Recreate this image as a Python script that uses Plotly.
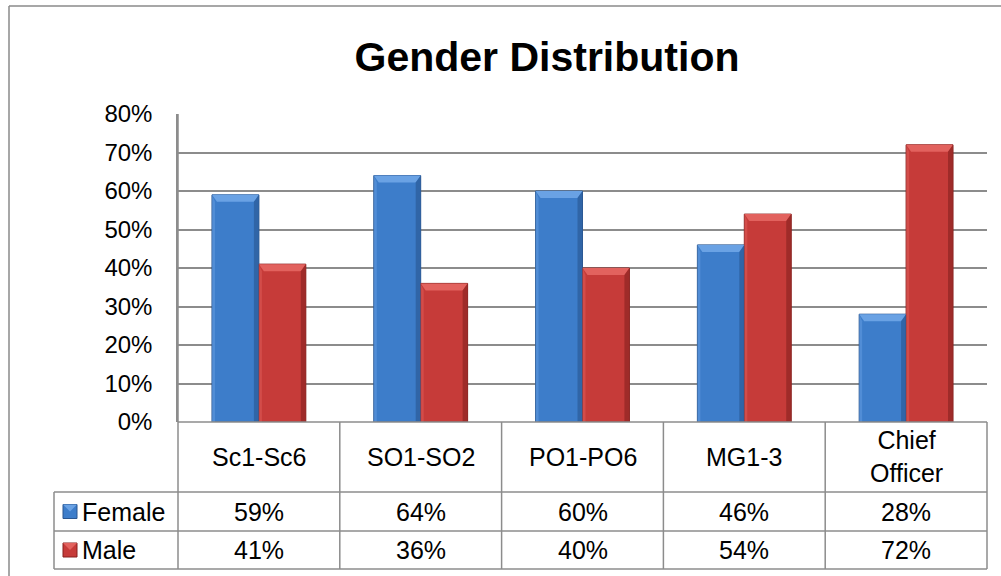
import plotly.graph_objects as go

# --- data ---------------------------------------------------------------
categories = ["Sc1-Sc6", "SO1-SO2", "PO1-PO6", "MG1-3", "Chief Officer"]
category_labels = ["Sc1-Sc6", "SO1-SO2", "PO1-PO6", "MG1-3", "Chief<br>Officer"]
series_names = ["Female", "Male"]
female = [59, 64, 60, 46, 28]
male = [41, 36, 40, 54, 72]
y_ticks = [0, 10, 20, 30, 40, 50, 60, 70, 80]
y_tick_labels = ["0%", "10%", "20%", "30%", "40%", "50%", "60%", "70%", "80%"]

# --- styling ------------------------------------------------------------
W, H = 1001, 576
PL, PR, PT, PB = 178, 987, 114, 422          # plot area in pixels
FONT = "Liberation Sans, Arial, sans-serif"
GRID = "#8c8c8c"
BARGAP = 0.42
styles = {
    "Female": dict(body="#3d7dca", light="#6aa2e4", dark="#2d5f9e", edge="#2a5690"),
    "Male": dict(body="#c63b39", light="#e2625e", dark="#952826", edge="#86211f"),
}
series = {"Female": female, "Male": male}


def px_x(px):
    return (px - PL) / (PR - PL)


def px_y(py):
    return (PB - py) / (PB - PT)


fig = go.Figure()
for name in series_names:
    st = styles[name]
    fig.add_trace(go.Bar(
        name=name, x=categories, y=series[name],
        marker=dict(color=st["body"], line=dict(color=st["edge"], width=1)),
        showlegend=False, hoverinfo="x+y+name",
    ))

# bevel highlights on each bar, positioned from the bar values
shapes = []
bar_w = (1 - BARGAP) / 2
unit_x = (PR - PL) / len(categories)          # pixels per category
unit_y = (PB - PT) / y_ticks[-1]               # pixels per percent
dx = 5 / unit_x
dy = 7 / unit_y
for k, name in enumerate(series_names):
    st = styles[name]
    for i, v in enumerate(series[name]):
        x0 = i - bar_w + k * bar_w
        x1 = x0 + bar_w
        top = (f"M {x0} {v} L {x1} {v} L {x1 - dx} {v - dy} "
               f"L {x0 + dx} {v - dy} Z")
        right = (f"M {x1} {v} L {x1} 0 L {x1 - dx} 0 "
                 f"L {x1 - dx} {v - dy} Z")
        left = (f"M {x0} {v} L {x0} 0 L {x0 + dx * 0.6} 0 "
                f"L {x0 + dx * 0.6} {v - dy} Z")
        shapes.append(dict(type="path", xref="x", yref="y", path=top,
                           fillcolor=st["light"], line=dict(width=0), layer="above"))
        shapes.append(dict(type="path", xref="x", yref="y", path=right,
                           fillcolor=st["dark"], line=dict(width=0), layer="above", opacity=0.8))
        shapes.append(dict(type="path", xref="x", yref="y", path=left,
                           fillcolor=st["light"], line=dict(width=0), layer="above", opacity=0.45))

# data table under the plot
row_cat = (PB, 492)
row_f = (492, 531)
row_m = (531, 569)
col_edges = [PL + j * (PR - PL) / len(categories) for j in range(len(categories) + 1)]
LEG_L = 54


def hline(x0, x1, y):
    shapes.append(dict(type="line", xref="paper", yref="paper",
                       x0=px_x(x0), x1=px_x(x1), y0=px_y(y), y1=px_y(y),
                       line=dict(color=GRID, width=1.5)))


def vline(x, y0, y1):
    shapes.append(dict(type="line", xref="paper", yref="paper",
                       x0=px_x(x), x1=px_x(x), y0=px_y(y0), y1=px_y(y1),
                       line=dict(color=GRID, width=1.5)))


hline(PL, PR, PB)
for yy in (row_f[0], row_m[0], row_m[1]):
    hline(LEG_L, PR, yy)
for j, xe in enumerate(col_edges):
    vline(xe, PT if j == 0 else PB, row_m[1])
vline(LEG_L, row_f[0], row_m[1])

# outer chart frame
shapes.append(dict(type="line", xref="paper", yref="paper",
                   x0=px_x(9), x1=px_x(1010), y0=px_y(6), y1=px_y(6),
                   line=dict(color="#8a8a8a", width=1.5)))
shapes.append(dict(type="line", xref="paper", yref="paper",
                   x0=px_x(9), x1=px_x(9), y0=px_y(6), y1=px_y(590),
                   line=dict(color="#8a8a8a", width=1.5)))

annotations = []
TFS = 25
for cat, lab in zip(categories, category_labels):
    annotations.append(dict(x=cat, xref="x", y=px_y(sum(row_cat) / 2), yref="paper",
                            text=lab, showarrow=False, font=dict(family=FONT, size=TFS, color="#000"),
                            xanchor="center", yanchor="middle"))
for name, row in (("Female", row_f), ("Male", row_m)):
    st = styles[name]
    for cat, v in zip(categories, series[name]):
        annotations.append(dict(x=cat, xref="x", y=px_y(sum(row) / 2), yref="paper",
                                text=f"{v}%", showarrow=False,
                                font=dict(family=FONT, size=TFS, color="#000"),
                                xanchor="center", yanchor="middle"))
    # legend key square
    cy = sum(row) / 2
    shapes.append(dict(type="rect", xref="paper", yref="paper",
                       x0=px_x(63), x1=px_x(77), y0=px_y(cy - 7), y1=px_y(cy + 7),
                       fillcolor=st["body"], line=dict(color=st["edge"], width=1)))
    shapes.append(dict(type="path", xref="paper", yref="paper",
                       path=(f"M {px_x(63)} {px_y(cy - 7)} L {px_x(77)} {px_y(cy - 7)} "
                             f"L {px_x(70)} {px_y(cy)} Z"),
                       fillcolor=st["light"], line=dict(width=0)))
    annotations.append(dict(x=px_x(80), xref="paper", y=px_y(cy), yref="paper",
                            text=name, showarrow=False,
                            font=dict(family=FONT, size=TFS, color="#000"),
                            xanchor="left", yanchor="middle"))

fig.update_layout(
    width=W, height=H,
    margin=dict(l=PL, r=W - PR, t=PT, b=H - PB, pad=0),
    paper_bgcolor="white", plot_bgcolor="white",
    barmode="group", bargap=BARGAP, bargroupgap=0,
    title=dict(text="<b>Gender Distribution</b>", xref="container", yref="container",
               x=547 / W, y=1 - 57 / H, xanchor="center", yanchor="middle",
               font=dict(family=FONT, size=41, color="#000")),
    xaxis=dict(showticklabels=False, showgrid=False, zeroline=False, showline=False,
               ticks="", fixedrange=True),
    yaxis=dict(range=[0, y_ticks[-1]], tickmode="array", tickvals=y_ticks,
               ticktext=y_tick_labels,
               showgrid=True, gridcolor=GRID, gridwidth=1.5, zeroline=False,
               showline=True, linecolor=GRID, linewidth=1.5,
               ticks="", ticklabelstandoff=19,
               tickfont=dict(family=FONT, size=24, color="#000")),
    shapes=shapes, annotations=annotations,
    font=dict(family=FONT),
)

fig.write_html("out.html")
